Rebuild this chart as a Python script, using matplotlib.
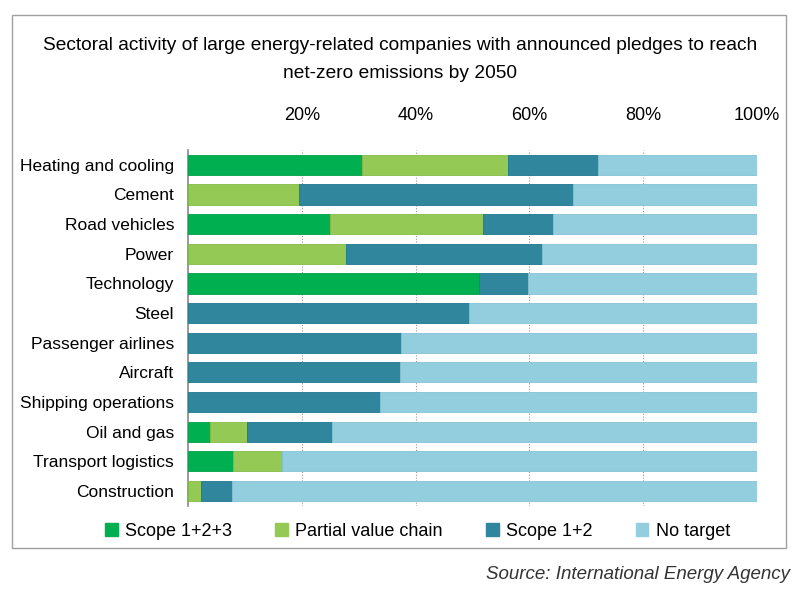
import matplotlib.pyplot as plt
from matplotlib.patches import Patch, Rectangle
import numpy as np

plt.rcParams['font.family'] = ['Liberation Sans', 'DejaVu Sans']

# Données (en %)
sectors = ['Heating and cooling', 'Cement', 'Road vehicles', 'Power', 'Technology',
           'Steel', 'Passenger airlines', 'Aircraft', 'Shipping operations',
           'Oil and gas', 'Transport logistics', 'Construction']
scope123 = [30.6, 0, 25.0, 0, 51.1, 0, 0, 0, 0, 3.9, 7.9, 0]
partial = [25.7, 19.5, 26.8, 27.7, 0, 0, 0, 0, 0, 6.5, 8.7, 2.2]
scope12 = [15.8, 48.1, 12.4, 34.5, 8.6, 49.4, 37.4, 37.2, 33.7, 15.0, 0, 5.6]
no_target = [27.9, 32.4, 35.8, 37.8, 40.3, 50.6, 62.6, 62.8, 66.3, 74.6, 83.4, 92.2]

series = ['Scope 1+2+3', 'Partial value chain', 'Scope 1+2', 'No target']
colors = ['#00b050', '#95c955', '#2f869d', '#93cedf']
edges = ['#00a048', '#86bb48', '#1f7790', '#86c3d6']
xticks = [20, 40, 60, 80, 100]

fig = plt.figure(figsize=(8, 6), dpi=100)
ax = fig.add_axes([0.235, 0.157, 0.711, 0.593])

y = np.arange(len(sectors))
left = np.zeros(len(sectors))
for vals, col, ec in zip([scope123, partial, scope12, no_target], colors, edges):
    ax.barh(y, vals, left=left, height=0.68, color=col, edgecolor=ec,
            linewidth=0.6, zorder=3)
    left += np.array(vals)

ax.set_xlim(0, 100)
ax.set_ylim(11.5, -0.5)
ax.set_yticks(y)
ax.set_yticklabels(sectors, fontsize=12.5)
ax.xaxis.tick_top()
ax.set_xticks(xticks)
ax.set_xticklabels([f'{t}%' for t in xticks], fontsize=13)
ax.tick_params(length=0, pad=10)
ax.tick_params(axis='x', pad=19)
ax.grid(axis='x', color='#9a9a9a', linestyle=(0, (1, 1.5)), linewidth=0.8, zorder=0)
for s in ['top', 'right', 'bottom']:
    ax.spines[s].set_visible(False)
ax.spines['left'].set_color('#888888')
ax.spines['left'].set_linewidth(1.2)

fig.text(0.5, 0.925, 'Sectoral activity of large energy-related companies with announced pledges to reach',
         ha='center', va='center', fontsize=13.8)
fig.text(0.5, 0.877, 'net-zero emissions by 2050', ha='center', va='center', fontsize=13.8)

handles = [Patch(facecolor=c, edgecolor=c) for c in colors]
fig.legend(handles, series, loc='center', bbox_to_anchor=(0.522, 0.115), ncol=4,
           frameon=False, fontsize=13, handlelength=0.7, handleheight=0.7,
           handletextpad=0.4, columnspacing=2.4)

fig.patches.append(Rectangle((12 / 800, 1 - 548 / 600), 774 / 800, 533 / 600,
                             transform=fig.transFigure, fill=False,
                             edgecolor='#a0a0a0', linewidth=1.0))

fig.text(0.987, 0.042, 'Source: International Energy Agency', ha='right', va='center',
         fontsize=13.5, style='italic', color='#333333')

fig.savefig('out.png', dpi=100)
